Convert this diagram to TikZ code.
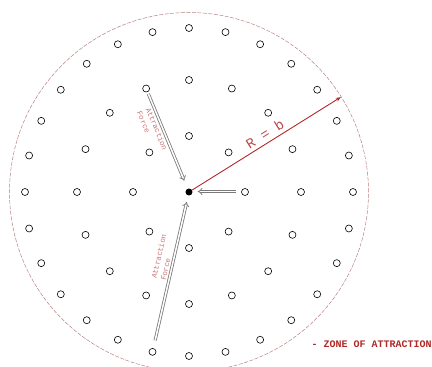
\documentclass[tikz,border=0pt]{standalone}
\usepackage{fontspec}
\setmonofont{Liberation Mono}
\usetikzlibrary{arrows.meta}
\definecolor{zonered}{HTML}{B02828}
\definecolor{rimred}{HTML}{B88080}
\definecolor{forcegray}{HTML}{7A7A7A}

\begin{document}
\begin{tikzpicture}[x=1pt,y=1pt,
		pt/.style={circle,draw,inner sep=0pt,minimum size=7pt,line width=0.6pt},
		force/.style={draw=forcegray,line width=0.8pt,double=white,double distance=1.5pt,-{Implies}},
		lbl/.style={font=\ttfamily\fontsize{7.5}{9.5}\selectfont,text=zonered!65,align=left,inner sep=2.5pt}]
		\useasboundingbox (-189,-175) rectangle (243,192);
		% zone of attraction
		\draw[rimred,line width=0.5pt,dash pattern=on 4pt off 1.5pt] (0,0) circle (179.5);
		% particles in three rings
		\node[circle,fill=black,inner sep=0pt,minimum size=7pt] (ctr) at (0,0) {};
		\foreach \i in {0,...,7}
			\node[pt] (a\i) at (\i*45:56) {};
		\foreach \i in {0,...,15}
			\node[pt] (b\i) at (\i*22.5:112) {};
		\foreach \i in {0,...,27}
			\node[pt] (c\i) at ({\i*360/28}:164) {};
		% radius
		\coordinate (rim) at (32:179);
		\draw[zonered,line width=0.9pt,-{Stealth[length=5pt,width=4pt]}] (ctr) -- (rim)
			node[sloped,above,pos=0.52,font=\ttfamily\fontsize{14}{14}\selectfont,text=zonered!85] (rlbl) {R = b};
		% attraction forces
		\draw[force,shorten <=2pt,shorten >=8.5pt] (b5) -- (ctr)
			node[lbl,sloped,below,pos=0.36] (f1) {Attraction\\Force};
		\draw[force,shorten <=5pt,shorten >=5pt] ([yshift=0.5pt]a0.west) -- ([yshift=0.5pt]ctr.east);
		\draw[force,shorten <=8pt,shorten >=6.5pt] (c20) -- (ctr)
			node[lbl,sloped,above,pos=0.58] (f2) {Attraction\\Force};
		\node[anchor=west,font=\ttfamily\bfseries\fontsize{10}{10}\selectfont,text=zonered] (zone) at (119,-152) {- ZONE OF ATTRACTION};
	\end{tikzpicture}
\end{document}
